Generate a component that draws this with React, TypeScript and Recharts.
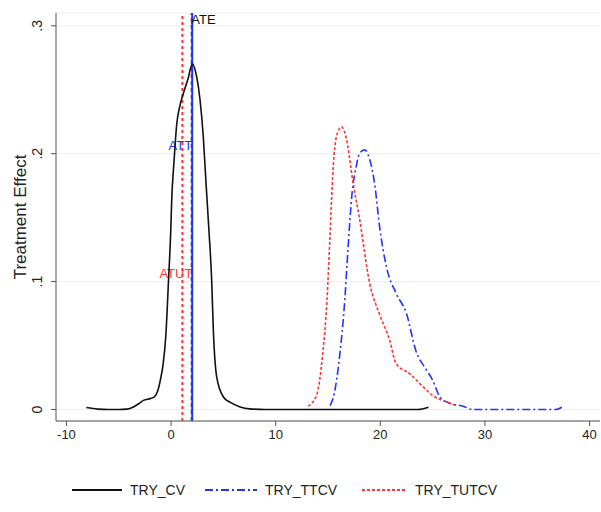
import {
  LineChart,
  Line,
  XAxis,
  YAxis,
  CartesianGrid,
  ReferenceLine,
  Legend,
  Label,
} from "recharts";

const cvX = [-8.1, -7, -6, -5, -4.2, -3.6, -3.0, -2.6, -2.0, -1.6, -1.3, -1.0, -0.75, -0.5, -0.25, -0.03, 0.06, 0.29, 0.54, 0.8, 1.17, 1.6, 2.03, 2.45, 2.77, 3.08, 3.34, 3.62, 3.88, 4.04, 4.36, 5.0, 5.63, 6.6, 7.5, 9, 12, 16, 20, 23.6, 24.6];
const cvY = [0.0015, 0.0003, 0, 0, 0.0003, 0.002, 0.005, 0.0073, 0.0085, 0.0098, 0.014, 0.024, 0.036, 0.058, 0.1, 0.14, 0.1635, 0.195, 0.223, 0.236, 0.247, 0.258, 0.27, 0.26, 0.242, 0.213, 0.177, 0.14, 0.101, 0.062, 0.0255, 0.0098, 0.0057, 0.002, 0.0005, 0, 0, 0, 0, 0, 0.0018];

const ttX = [15.2, 15.6, 16.1, 16.6, 16.9, 17.3, 17.7, 18.0, 18.5, 19.0, 19.5, 19.9, 20.6, 21.5, 22.5, 23.4, 24.4, 25.0, 25.7, 26.6, 27.9, 28.8, 32, 36.8, 37.4];
const ttY = [0.003, 0.0125, 0.041, 0.085, 0.124, 0.169, 0.19, 0.2, 0.203, 0.195, 0.174, 0.145, 0.111, 0.091, 0.075, 0.046, 0.031, 0.023, 0.0098, 0.005, 0.0026, 0, 0, 0, 0.002];

const tutX = [13.1, 13.9, 14.5, 14.9, 15.2, 15.5, 15.8, 16.3, 16.8, 17.4, 18.0, 19.0, 19.9, 20.9, 21.5, 22.8, 24.1, 25.0, 26.3, 27.3];
const tutY = [0.0026, 0.011, 0.044, 0.085, 0.137, 0.19, 0.213, 0.221, 0.21, 0.177, 0.15, 0.098, 0.075, 0.054, 0.036, 0.028, 0.0177, 0.011, 0.006, 0.003];

const xTicks = [-10, 0, 10, 20, 30, 40];
const yTicks = [0, 0.1, 0.2, 0.3];

const ateX = 1.93;
const attX = 2.02;
const atutX = 1.08;

const toPoints = (xs: number[], ys: number[]) => xs.map((x, i) => ({ x, y: ys[i] }));
const cvData = toPoints(cvX, cvY);
const ttData = toPoints(ttX, ttY);
const tutData = toPoints(tutX, tutY);

const font = "'Liberation Sans', Arial, sans-serif";
const BLUE = "#2233ff";
const RED = "#ff3333";

const fmtY = (v: number) => (v === 0 ? "0" : String(v).replace(/^0/, ""));

const YTick = ({ y, payload }: any) => (
  <text
    x={37}
    y={y}
    transform={`rotate(-90, 37, ${y})`}
    textAnchor="middle"
    dominantBaseline="central"
    fontSize={14}
    fill="#222"
    fontFamily={font}
  >
    {fmtY(payload.value)}
  </text>
);

const refLabel = (text: string, color: string, anchor: "start" | "end", dx: number, dy: number) =>
  (props: any) => {
    const vb = props.viewBox || {};
    return (
      <text
        x={vb.x + dx}
        y={vb.y + dy}
        textAnchor={anchor}
        fontSize={13}
        fill={color}
        fontFamily={font}
      >
        {text}
      </text>
    );
  };

const LegendBox = () => {
  const items = [
    { name: "TRY_CV", color: "#111", dash: undefined, left: 72, w: 50 },
    { name: "TRY_TTCV", color: BLUE, dash: "8 3 2 3", left: 205, w: 52 },
    { name: "TRY_TUTCV", color: RED, dash: "3 2", left: 362, w: 45 },
  ];
  return (
    <div style={{ position: "relative", height: 61, width: 601, fontFamily: font }}>
      {items.map((it) => (
        <div key={it.name} style={{ position: "absolute", left: it.left, top: 31, display: "flex", alignItems: "center" }}>
          <svg width={it.w} height={10}>
            <line x1={0} y1={5} x2={it.w} y2={5} stroke={it.color} strokeWidth={2} strokeDasharray={it.dash} />
          </svg>
          <span style={{ marginLeft: 8, fontSize: 14, color: "#222" }}>{it.name}</span>
        </div>
      ))}
    </div>
  );
};

export default function App() {
  return (
    <div style={{ position: "absolute", left: 0, top: 0, background: "#fff" }}>
      <LineChart width={601} height={512} margin={{ top: 13, right: 1, bottom: 0, left: 0 }}>
        <CartesianGrid horizontal vertical={false} stroke="#e4eef1" />
        <XAxis
          type="number"
          dataKey="x"
          domain={[-11, 41]}
          ticks={xTicks}
          allowDataOverflow
          height={30}
          stroke="#555"
          tickSize={5}
          tick={{ fontSize: 13, fill: "#222", fontFamily: font }}
          tickMargin={4}
        />
        <YAxis
          type="number"
          domain={[-0.009, 0.31]}
          ticks={yTicks}
          allowDataOverflow
          width={56}
          stroke="#555"
          tickSize={5}
          tick={<YTick />}
        >
          <Label
            content={(props: any) => {
              const vb = props.viewBox;
              const cy = vb.y + vb.height / 2;
              return (
                <text
                  x={20}
                  y={cy}
                  transform={`rotate(-90, 20, ${cy})`}
                  textAnchor="middle"
                  dominantBaseline="central"
                  fontSize={17}
                  fill="#222"
                  fontFamily={font}
                >
                  Treatment Effect
                </text>
              );
            }}
          />
        </YAxis>
        <Legend verticalAlign="bottom" height={61} content={() => <LegendBox />} />
        <ReferenceLine x={atutX} stroke={RED} strokeWidth={2} strokeDasharray="3 3" label={refLabel("ATUT", RED, "end", 10, 265)} />
        <ReferenceLine x={attX} stroke={BLUE} strokeWidth={2} label={refLabel("ATT", BLUE, "end", 0, 137)} />
        <ReferenceLine x={ateX} stroke="#444" strokeWidth={1.2} strokeDasharray="4 3" label={refLabel("ATE", "#111", "start", 0, 11)} />
        <Line data={cvData} dataKey="y" name="TRY_CV" type="monotone" stroke="#111" strokeWidth={1.6} dot={false} isAnimationActive={false} />
        <Line data={ttData} dataKey="y" name="TRY_TTCV" type="monotone" stroke={BLUE} strokeWidth={1.6} strokeDasharray="8 3 2 3" dot={false} isAnimationActive={false} />
        <Line data={tutData} dataKey="y" name="TRY_TUTCV" type="monotone" stroke={RED} strokeWidth={1.6} strokeDasharray="3 2" dot={false} isAnimationActive={false} />
      </LineChart>
    </div>
  );
}
